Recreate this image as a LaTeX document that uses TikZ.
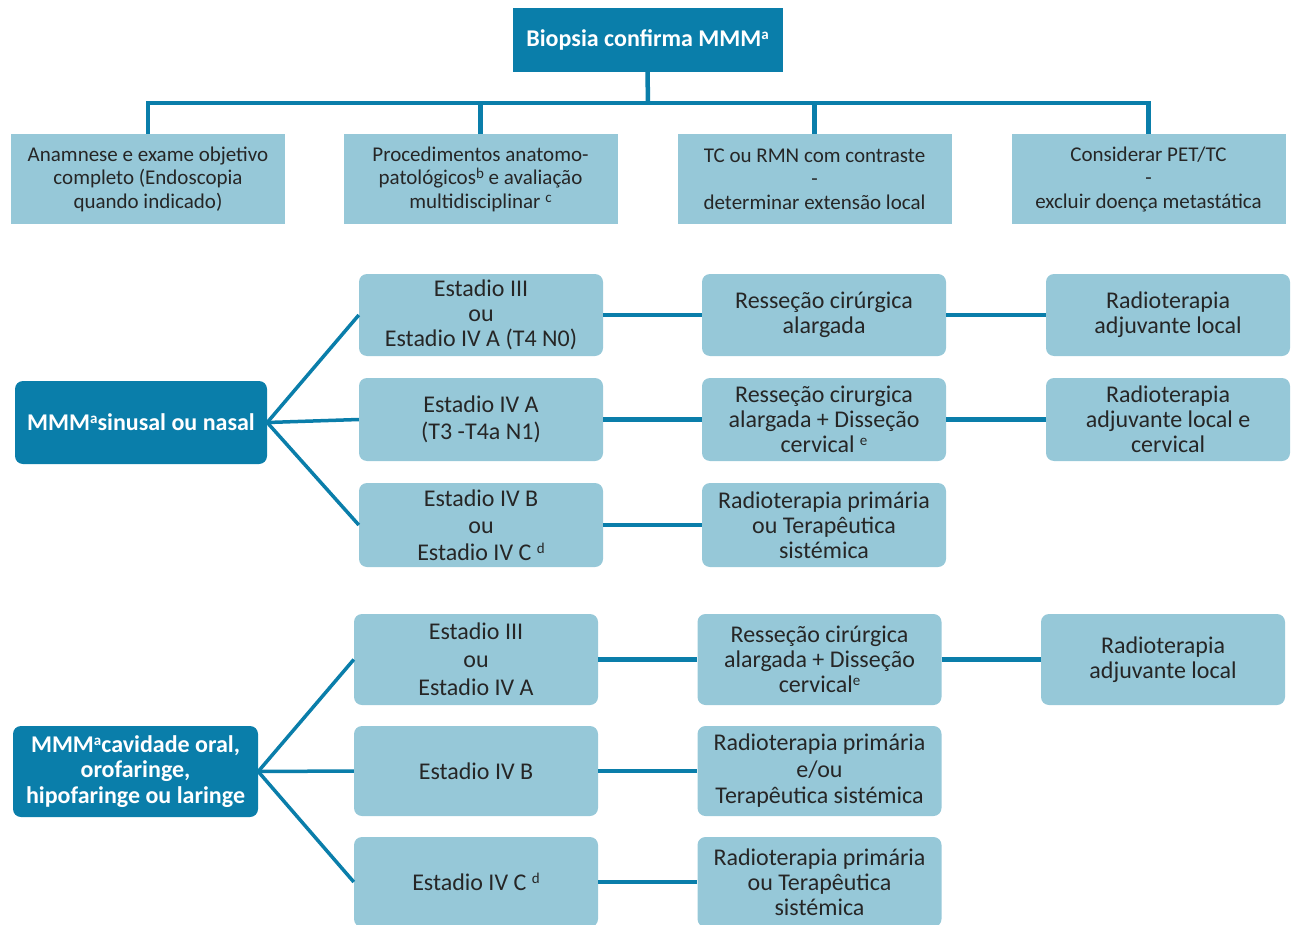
\documentclass[tikz,border=0pt]{standalone}
\usepackage{fontspec}
\setmainfont{Carlito}
\definecolor{mmmblue}{HTML}{0A7EAA}
\definecolor{boxblue}{HTML}{96C8D8}
\definecolor{txtgray}{HTML}{262626}
\newcommand{\supmark}[1]{\raisebox{0.6ex}{\fontsize{15}{15}\selectfont #1}}

\tikzset{
  darkbox/.style={fill=mmmblue, text=white, align=center, inner sep=0pt,
    font=\fontsize{24}{25.5}\selectfont\bfseries},
  infobox/.style={fill=boxblue, text=txtgray, align=center, inner sep=0pt,
    minimum width=274pt, minimum height=90pt, font=\fontsize{21}{23.5}\selectfont},
  stepbox/.style={fill=boxblue, text=txtgray, align=center, inner sep=0pt,
    rounded corners=8pt, minimum width=244pt, font=\fontsize{24}{25}\selectfont},
  link/.style={draw=mmmblue, line width=4.5pt},
  slant/.style={draw=mmmblue, line width=3.5pt}
}

\begin{document}
\begin{tikzpicture}[x=1pt,y=-1pt]
\useasboundingbox (0,0) rectangle (1292,925);

% first stage
\node[darkbox, minimum width=270pt, minimum height=64pt] (biopsia) at (647.5,40)
  {Biopsia confirma MMM\supmark{a}};
\node[infobox] (anamnese) at (148,179)
  {Anamnese e exame objetivo\\completo (Endoscopia\\quando indicado)};
\node[infobox] (procedimentos) at (480.5,179)
  {Procedimentos anatomo-\\patológicos\supmark{b} e avaliação\\multidisciplinar \supmark{c}};
\node[infobox] (imagem) at (814.5,179)
  {TC ou RMN com contraste\\-\\determinar extensão local};
\node[infobox] (pet) at (1148.5,179)
  {Considerar PET/TC\\-\\excluir doença metastática};

\coordinate (bar) at (648,103);
\draw[link] (biopsia.south) -- (bar);
\foreach \n in {anamnese,procedimentos,imagem,pet}
  \draw[link] (\n.north) |- (bar);

% sinusal ou nasal
\node[darkbox, rounded corners=8pt, minimum width=252pt, minimum height=83pt] (sinusal) at (141,422.5)
  {MMM\supmark{a}sinusal ou nasal};
\node[stepbox, minimum height=82pt] (sA) at (481,315)
  {Estadio III\\ou\\Estadio IV A (T4 N0)};
\node[stepbox, minimum height=83pt] (sB) at (481,419.5)
  {Estadio IV A\\[2pt](T3 -T4a N1)};
\node[stepbox, minimum height=84pt] (sC) at (481,525)
  {Estadio IV B\\[2pt]ou\\[2pt]Estadio IV C \supmark{d}};
\node[stepbox, minimum height=82pt] (tA) at (824,315)
  {Resseção cirúrgica\\alargada};
\node[stepbox, minimum height=83pt] (tB) at (824,419.5)
  {Resseção cirurgica\\alargada + Disseção\\cervical \supmark{e}};
\node[stepbox, minimum height=84pt] (tC) at (824,525)
  {Radioterapia primária\\ou Terapêutica\\sistémica};
\node[stepbox, minimum height=82pt] (rA) at (1168,315)
  {Radioterapia\\adjuvante local};
\node[stepbox, minimum height=83pt] (rB) at (1168,419.5)
  {Radioterapia\\adjuvante local e\\cervical};

\foreach \s in {sA,sB,sC}
  \draw[slant] (sinusal.east) -- (\s.west);
\draw[link] (sA) -- (tA) -- (rA);
\draw[link] (sB) -- (tB) -- (rB);
\draw[link] (sC) -- (tC);

% cavidade oral, orofaringe, hipofaringe ou laringe
\node[darkbox, rounded corners=8pt, minimum width=245pt, minimum height=91pt] (oral) at (135.5,771.5)
  {MMM\supmark{a}cavidade oral,\\orofaringe,\\hipofaringe ou laringe};
\node[stepbox, minimum height=91pt] (oA) at (476,659.5)
  {Estadio III\\[3pt]ou\\[3pt]Estadio IV A};
\node[stepbox, minimum height=90pt] (oB) at (476,771)
  {Estadio IV B};
\node[stepbox, minimum height=90pt] (oC) at (476,882)
  {Estadio IV C \supmark{d}};
\node[stepbox, minimum height=91pt] (pA) at (819.5,659.5)
  {Resseção cirúrgica\\alargada + Disseção\\cervical\supmark{e}};
\node[stepbox, minimum height=90pt] (pB) at (819.5,771)
  {Radioterapia primária\\[1.5pt]e/ou\\[1.5pt]Terapêutica sistémica};
\node[stepbox, minimum height=90pt] (pC) at (819.5,882)
  {Radioterapia primária\\ou Terapêutica\\sistémica};
\node[stepbox, minimum height=91pt] (qA) at (1163,659.5)
  {Radioterapia\\adjuvante local};

\foreach \s in {oA,oB,oC}
  \draw[slant] (oral.east) -- (\s.west);
\draw[link] (oA) -- (pA) -- (qA);
\draw[link] (oB) -- (pB);
\draw[link] (oC) -- (pC);
\end{tikzpicture}
\end{document}
